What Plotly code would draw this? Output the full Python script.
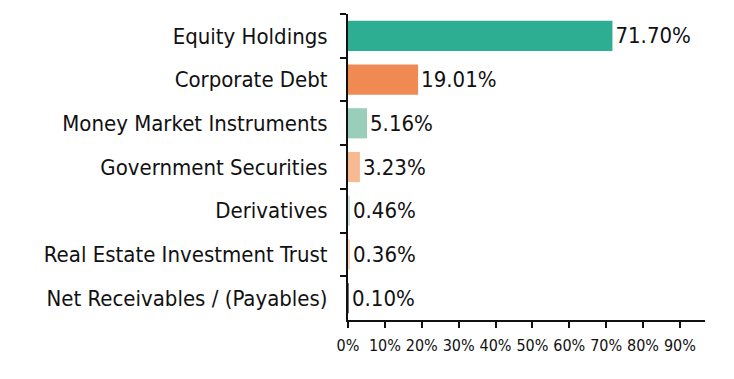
import plotly.graph_objects as go

categories = ["Equity Holdings", "Corporate Debt", "Money Market Instruments",
              "Government Securities", "Derivatives", "Real Estate Investment Trust",
              "Net Receivables / (Payables)"]
values = [71.70, 19.01, 5.16, 3.23, 0.46, 0.36, 0.10]
colors = ["#2DAE93", "#EF8A53", "#99CEBB", "#F7BA90", "#C9E3D8", "#FCD6BC", "#6E6E6E"]
tick_vals = [0, 10, 20, 30, 40, 50, 60, 70, 80, 90]
tick_text = [f"{v}%" for v in tick_vals]

FONT = "DejaVu Sans Condensed, sans-serif"

fig = go.Figure(go.Bar(
    x=values, y=categories, orientation="h",
    marker=dict(color=colors, line=dict(width=0)),
    text=[f"{v:.2f}%" for v in values], textposition="outside",
    textfont=dict(size=22, color="#111111", family=FONT),
    cliponaxis=False, width=0.69,
))
fig.update_layout(
    width=734, height=379,
    margin=dict(l=340, r=37, t=6, b=67),
    plot_bgcolor="white", paper_bgcolor="white",
    font=dict(family=FONT, size=22, color="#111111"),
    showlegend=False,
    bargap=0.31,
)
fig.update_yaxes(autorange="reversed", showline=True, linecolor="#111111", linewidth=2,
                 ticks="outside", ticklen=6, tickwidth=2, tickcolor="#111111",
                 tickson="boundaries", showgrid=False, ticklabelstandoff=14,
                 automargin=False, tickfont=dict(size=22))
fig.update_xaxes(range=[0, 96.8], tickvals=tick_vals, ticktext=tick_text,
                 showline=True, linecolor="#111111", linewidth=2,
                 ticks="outside", ticklen=6, tickwidth=2, tickcolor="#111111",
                 showgrid=False, zeroline=False, automargin=False, tickangle=0,
                 tickfont=dict(size=16), ticklabelstandoff=4)
fig.write_html("out.html")
